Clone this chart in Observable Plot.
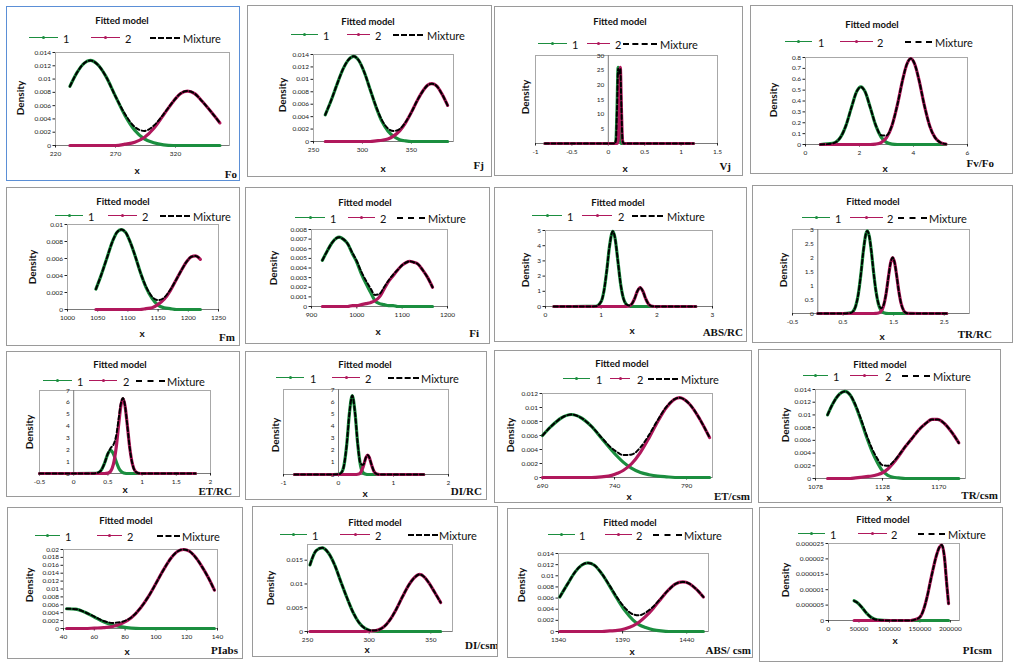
<!DOCTYPE html>
<html><head><meta charset="utf-8">
<script src="https://cdn.jsdelivr.net/npm/d3@7"></script>
<script src="https://cdn.jsdelivr.net/npm/@observablehq/plot@0.6"></script>
<style>
body{margin:0;background:#fff;}
#root{position:relative;width:1021px;height:671px;overflow:hidden;font-family:Lato,"Open Sans",sans-serif;background:#fff;}
.panel{position:absolute;box-sizing:border-box;border:1px solid #9a9a9a;overflow:hidden;background:#fff;}
.panel.sel{border-color:#5b8fd6;}
.panel svg{position:absolute;left:0;top:0;overflow:visible;}
.t{position:absolute;white-space:nowrap;line-height:1;color:#111;}
.title{font-weight:bold;font-size:9.5px;transform:translate(-50%,-50%);}
.legtxt{font-size:11px;transform:translateY(-50%);}
.dens{font-weight:bold;font-size:10px;transform:translate(-50%,-50%) rotate(-90deg);}
.xl{font-weight:bold;font-size:10px;line-height:0.8;transform:translate(-50%,-50%);}
.corner{font-family:"Liberation Serif","DejaVu Serif",serif;font-weight:bold;font-size:11px;transform:translate(-100%,-50%);}
.cornerL{font-family:"Liberation Serif","DejaVu Serif",serif;font-weight:bold;font-size:11px;transform:translateY(-50%);}
.sw{position:absolute;height:0;}
.dot{position:absolute;width:3px;height:3px;border-radius:50%;left:50%;top:-2.2px;margin-left:-1.5px;}
</style></head>
<body><div id="root"></div>
<script>
// ---------- data ----------
const foX = [232, 238, 244, 249, 255, 262, 270, 278, 286, 294, 302, 310, 318, 324, 330, 336, 342, 350, 357];
const foC1 = [0.0089, 0.0110, 0.0124, 0.0128, 0.0122, 0.0104, 0.0074, 0.0045, 0.0023, 0.0010, 0.0004, 0.0001, 0, 0, 0, 0, 0, 0, 0];
const foC2 = [0, 0, 0, 0, 0, 0, 0, 0.0002, 0.0005, 0.0012, 0.0026, 0.0046, 0.0066, 0.0078, 0.0082, 0.0078, 0.0067, 0.0050, 0.0034];
const foMix = [0.0089, 0.0110, 0.0124, 0.0128, 0.0122, 0.0104, 0.0074, 0.0047, 0.0028, 0.0022, 0.0030, 0.0047, 0.0066, 0.0078, 0.0082, 0.0078, 0.0067, 0.0050, 0.0034];
const foXT = [220, 270, 320];
const foYT = [0, 0.002, 0.004, 0.006, 0.008, 0.01, 0.012, 0.014];

const fjX = [262, 268, 274, 280, 286, 291, 296, 302, 308, 314, 320, 326, 332, 338, 344, 350, 356, 362, 367, 371, 376, 381, 387];
const fjC1 = [0.0043, 0.0066, 0.0092, 0.0116, 0.0132, 0.0137, 0.0131, 0.0111, 0.0083, 0.0055, 0.0032, 0.0017, 0.0008, 0.0003, 0.0001, 0, 0, 0, 0, 0, 0, 0, 0];
const fjC2 = [0, 0, 0, 0, 0, 0, 0, 0, 0, 0.0001, 0.0002, 0.0004, 0.0009, 0.0017, 0.0030, 0.0047, 0.0066, 0.0082, 0.0091, 0.0093, 0.0089, 0.0077, 0.0058];
const fjMix = [0.0043, 0.0066, 0.0092, 0.0116, 0.0132, 0.0137, 0.0131, 0.0111, 0.0083, 0.0056, 0.0034, 0.0021, 0.0017, 0.0020, 0.0031, 0.0047, 0.0066, 0.0082, 0.0091, 0.0093, 0.0089, 0.0077, 0.0058];
const fjXT = [250, 300, 350];
const fjYT = [0, 0.002, 0.004, 0.006, 0.008, 0.01, 0.012, 0.014];

const vjX = [-0.87, -0.5, 0, 0.09, 0.105, 0.12, 0.135, 0.15, 0.165, 0.18, 0.195, 0.21, 0.23, 0.3, 0.5, 1.0, 1.17];
const vjC1 = [0, 0, 0, 0.02, 1.1, 11.9, 26, 11.9, 1.1, 0.02, 0, 0, 0, 0, 0, 0, 0];
const vjC2 = [0, 0, 0, 0, 0, 0, 1.1, 11.9, 26, 11.9, 1.1, 0.02, 0, 0, 0, 0, 0];
const vjMix = [0, 0, 0, 0.02, 1.1, 11.9, 25.5, 23.8, 25.5, 11.9, 1.1, 0.02, 0, 0, 0, 0, 0];
const vjXT = [-1, -0.5, 0, 0.5, 1, 1.5];
const vjYT = [5, 10, 15, 20, 25, 30];

const fvX = [0.55, 1.0, 1.3, 1.5, 1.7, 1.9, 2.05, 2.2, 2.4, 2.6, 2.8, 3.0, 3.2, 3.4, 3.6, 3.75, 3.9, 4.05, 4.2, 4.4, 4.6, 4.8, 5.0, 5.2];
const fvC1 = [0, 0.010, 0.068, 0.176, 0.339, 0.489, 0.53, 0.489, 0.339, 0.176, 0.068, 0.020, 0.004, 0, 0, 0, 0, 0, 0, 0, 0, 0, 0, 0];
const fvC2 = [0, 0, 0, 0, 0, 0, 0, 0, 0, 0.004, 0.018, 0.063, 0.171, 0.362, 0.597, 0.736, 0.79, 0.736, 0.597, 0.362, 0.171, 0.063, 0.018, 0.004];
const fvMix = [0, 0.010, 0.068, 0.176, 0.339, 0.489, 0.53, 0.489, 0.339, 0.180, 0.086, 0.083, 0.175, 0.362, 0.597, 0.736, 0.79, 0.736, 0.597, 0.362, 0.171, 0.063, 0.018, 0.004];
const fvXT = [0, 2, 4, 6];
const fvYT = [0, 0.1, 0.2, 0.3, 0.4, 0.5, 0.6, 0.7, 0.8];

const fmX = [1047, 1055, 1065, 1075, 1082, 1089, 1096, 1104, 1112, 1120, 1130, 1140, 1150, 1160, 1170, 1180, 1190, 1198, 1205, 1212, 1220];
const fmC1 = [0.0024, 0.0039, 0.0060, 0.0081, 0.0091, 0.0094, 0.0091, 0.0079, 0.0063, 0.0045, 0.0026, 0.0013, 0.0005, 0.0002, 0.0001, 0, 0, 0, 0, 0, 0];
const fmC2 = [0, 0, 0, 0, 0, 0, 0, 0, 0, 0, 0.0001, 0.0002, 0.0006, 0.0012, 0.0022, 0.0035, 0.0048, 0.0057, 0.0062, 0.0063, 0.0059];
const fmMix = [0.0024, 0.0039, 0.0060, 0.0081, 0.0091, 0.0094, 0.0091, 0.0079, 0.0063, 0.0045, 0.0027, 0.0015, 0.0011, 0.0014, 0.0023, 0.0035, 0.0048, 0.0057, 0.0062, 0.0063, 0.0059];
const fmXT = [1000, 1050, 1100, 1150, 1200, 1250];
const fmYT = [0, 0.002, 0.004, 0.006, 0.008, 0.01];

const fiX = [924, 935, 945, 955, 961, 970, 980, 990, 1000, 1010, 1020, 1030, 1040, 1050, 1060, 1070, 1080, 1090, 1100, 1110, 1116, 1125, 1135, 1145, 1155, 1167];
const fiC1 = [0.0048, 0.0058, 0.0066, 0.0071, 0.0072, 0.0070, 0.0065, 0.0055, 0.0046, 0.0034, 0.0024, 0.0015, 0.0006, 0.0003, 0.0002, 0.0001, 0.0001, 0, 0, 0, 0, 0, 0, 0, 0, 0];
const fiC2 = [0, 0, 0, 0, 0, 0, 0, 0.0001, 0.0001, 0.0002, 0.0003, 0.0004, 0.0006, 0.0010, 0.0018, 0.0026, 0.0032, 0.0038, 0.0043, 0.0046, 0.0047, 0.0046, 0.0044, 0.0038, 0.0031, 0.0020];
const fiMix = [0.0048, 0.0058, 0.0066, 0.0071, 0.0072, 0.0070, 0.0065, 0.0056, 0.0047, 0.0036, 0.0027, 0.0019, 0.0012, 0.0013, 0.0020, 0.0027, 0.0033, 0.0038, 0.0043, 0.0046, 0.0047, 0.0046, 0.0044, 0.0038, 0.0031, 0.0020];
const fiXT = [900, 1000, 1100, 1200];
const fiYT = [0, 0.001, 0.002, 0.003, 0.004, 0.005, 0.006, 0.007, 0.008];

const abrX = [0.15, 0.5, 0.9, 1.0, 1.05, 1.1, 1.15, 1.21, 1.25, 1.3, 1.35, 1.4, 1.45, 1.5, 1.55, 1.6, 1.65, 1.7, 1.75, 1.8, 1.85, 1.9, 2.0, 2.3, 2.7];
const abrC1 = [0, 0, 0.01, 0.33, 1.02, 2.35, 3.96, 4.95, 4.48, 3.0, 1.47, 0.53, 0.14, 0.03, 0, 0, 0, 0, 0, 0, 0, 0, 0, 0, 0];
const abrC2 = [0, 0, 0, 0, 0, 0, 0, 0, 0, 0, 0, 0, 0.005, 0.035, 0.17, 0.51, 1.0, 1.25, 1.0, 0.51, 0.17, 0.035, 0, 0, 0];
const abrMix = [0, 0, 0.01, 0.33, 1.02, 2.35, 3.96, 4.95, 4.48, 3.0, 1.47, 0.53, 0.145, 0.065, 0.17, 0.51, 1.0, 1.25, 1.0, 0.51, 0.17, 0.035, 0, 0, 0];
const abrXT = [0, 1, 2, 3];
const abrYT = [0, 1, 2, 3, 4, 5];

const trrX = [0, 0.5, 0.65, 0.7, 0.75, 0.8, 0.85, 0.9, 0.95, 0.98, 1.02, 1.06, 1.1, 1.15, 1.2, 1.25, 1.3, 1.35, 1.4, 1.44, 1.48, 1.52, 1.56, 1.6, 1.65, 1.7, 1.75, 1.8, 2.0, 2.55];
const trrC1 = [0, 0, 0.02, 0.08, 0.27, 0.68, 1.37, 2.21, 2.83, 2.95, 2.74, 2.21, 1.53, 0.80, 0.33, 0.11, 0.03, 0.006, 0, 0, 0, 0, 0, 0, 0, 0, 0, 0, 0, 0];
const trrC2 = [0, 0, 0, 0, 0, 0, 0, 0, 0, 0, 0, 0, 0, 0.002, 0.016, 0.076, 0.27, 0.70, 1.35, 1.81, 2.0, 1.81, 1.35, 0.82, 0.34, 0.10, 0.02, 0.004, 0, 0];
const trrMix = [0, 0, 0.02, 0.08, 0.27, 0.68, 1.37, 2.21, 2.83, 2.95, 2.74, 2.21, 1.53, 0.80, 0.35, 0.19, 0.30, 0.71, 1.35, 1.81, 2.0, 1.81, 1.35, 0.82, 0.34, 0.10, 0.02, 0.004, 0, 0];
const trrXT = [-0.5, 0.5, 1.5, 2.5];
const trrYT = [0, 0.5, 1, 1.5, 2, 2.5, 3];

const etrX = [-0.5, 0, 0.3, 0.35, 0.4, 0.45, 0.5, 0.54, 0.58, 0.62, 0.66, 0.69, 0.72, 0.75, 0.78, 0.82, 0.86, 0.9, 0.95, 1.0, 1.2, 1.5, 1.78];
const etrC1 = [0, 0, 0.005, 0.05, 0.26, 0.85, 1.66, 1.95, 1.66, 1.02, 0.45, 0.20, 0.07, 0.02, 0, 0, 0, 0, 0, 0, 0, 0, 0];
const etrC2 = [0, 0, 0, 0, 0, 0, 0.03, 0.19, 0.76, 2.14, 4.27, 5.72, 6.3, 5.72, 4.27, 2.14, 0.76, 0.19, 0.02, 0, 0, 0, 0];
const etrMix = [0, 0, 0.005, 0.05, 0.26, 0.85, 1.69, 2.14, 2.42, 3.16, 4.72, 5.92, 6.37, 5.74, 4.27, 2.14, 0.76, 0.19, 0.02, 0, 0, 0, 0];
const etrXT = [-0.5, 0, 0.5, 1, 1.5, 2];
const etrYT = [0, 1, 2, 3, 4, 5, 6, 7];

const dirX = [-0.8, -0.2, 0, 0.05, 0.1, 0.15, 0.2, 0.25, 0.3, 0.35, 0.4, 0.45, 0.5, 0.53, 0.56, 0.6, 0.65, 0.7, 0.75, 1.0, 1.55];
const dirC1 = [0, 0, 0.016, 0.14, 0.75, 2.49, 5.11, 6.5, 5.11, 2.49, 0.75, 0.14, 0.016, 0, 0, 0, 0, 0, 0, 0, 0];
const dirC2 = [0, 0, 0, 0, 0, 0, 0, 0, 0, 0.018, 0.15, 0.66, 1.41, 1.6, 1.41, 0.81, 0.22, 0.03, 0, 0, 0];
const dirMix = [0, 0, 0.016, 0.14, 0.75, 2.49, 5.11, 6.5, 5.11, 2.51, 0.90, 0.80, 1.43, 1.6, 1.41, 0.81, 0.22, 0.03, 0, 0, 0];
const dirXT = [-1, 0, 1, 2];
const dirYT = [0, 1, 2, 3, 4, 5, 6, 7];

const etcX = [690, 696, 703, 710, 717, 724, 731, 738, 742, 746, 752, 758, 764, 770, 776, 785, 792, 799, 806];
const etcC1 = [0.0060, 0.0073, 0.0085, 0.0090, 0.0085, 0.0073, 0.0056, 0.0039, 0.0030, 0.0022, 0.0013, 0.0007, 0.0004, 0.0002, 0.0001, 0, 0, 0, 0];
const etcC2 = [0, 0, 0, 0, 0, 0, 0.0001, 0.0003, 0.0006, 0.0010, 0.0020, 0.0036, 0.0057, 0.0080, 0.0100, 0.0114, 0.0105, 0.0084, 0.0057];
const etcMix = [0.0060, 0.0073, 0.0085, 0.0090, 0.0085, 0.0073, 0.0057, 0.0042, 0.0036, 0.0032, 0.0033, 0.0043, 0.0061, 0.0082, 0.0101, 0.0114, 0.0105, 0.0084, 0.0057];
const etcXT = [690, 740, 790];
const etcYT = [0, 0.002, 0.004, 0.006, 0.008, 0.01, 0.012];

const trcX = [1087, 1091, 1096, 1100, 1104, 1108, 1112, 1116, 1120, 1124, 1128, 1132, 1136, 1140, 1145, 1150, 1155, 1160, 1165, 1169, 1174, 1180, 1185];
const trcC1 = [0.0100, 0.0118, 0.0133, 0.0137, 0.0131, 0.0114, 0.0091, 0.0066, 0.0044, 0.0026, 0.0012, 0.0005, 0.0002, 0.0001, 0, 0, 0, 0, 0, 0, 0, 0, 0];
const trcC2 = [0, 0, 0, 0, 0, 0.0001, 0.0002, 0.0003, 0.0004, 0.0006, 0.0009, 0.0015, 0.0024, 0.0035, 0.0050, 0.0063, 0.0076, 0.0086, 0.0093, 0.0093, 0.0087, 0.0072, 0.0056];
const trcMix = [0.0100, 0.0118, 0.0133, 0.0137, 0.0131, 0.0115, 0.0093, 0.0069, 0.0048, 0.0032, 0.0021, 0.0020, 0.0026, 0.0036, 0.0050, 0.0063, 0.0076, 0.0086, 0.0093, 0.0093, 0.0087, 0.0072, 0.0056];
const trcXT = [1078, 1128, 1170];
const trcYT = [0, 0.002, 0.004, 0.006, 0.008, 0.01, 0.012, 0.014];

const piaX = [42, 48, 54, 60, 66, 72, 78, 84, 90, 95, 100, 105, 110, 114, 118, 122, 126, 130, 134, 138];
const piaC1 = [0.0050, 0.0049, 0.0041, 0.0029, 0.0017, 0.0009, 0.0004, 0.0001, 0, 0, 0, 0, 0, 0, 0, 0, 0, 0, 0, 0];
const piaC2 = [0, 0, 0, 0.0001, 0.0002, 0.0005, 0.0013, 0.0027, 0.0052, 0.0080, 0.0114, 0.0149, 0.0179, 0.0195, 0.0200, 0.0195, 0.0179, 0.0156, 0.0129, 0.0097];
const piaMix = [0.0050, 0.0049, 0.0041, 0.0030, 0.0019, 0.0014, 0.0017, 0.0028, 0.0052, 0.0080, 0.0114, 0.0149, 0.0179, 0.0195, 0.0200, 0.0195, 0.0179, 0.0156, 0.0129, 0.0097];
const piaXT = [40, 60, 80, 100, 120, 140];
const piaYT = [0, 0.002, 0.004, 0.006, 0.008, 0.01, 0.012, 0.014, 0.016, 0.018, 0.02];

const dicX = [252, 257, 262, 267, 272, 277, 282, 287, 292, 297, 302, 307, 312, 317, 322, 327, 332, 337, 341, 345, 349, 353, 358];
const dicC1 = [0.0140, 0.0170, 0.0176, 0.0165, 0.0140, 0.0105, 0.0071, 0.0040, 0.0018, 0.0006, 0.0001, 0, 0, 0, 0, 0, 0, 0, 0, 0, 0, 0, 0];
const dicC2 = [0, 0, 0, 0, 0, 0, 0, 0, 0, 0, 0.0001, 0.0003, 0.0010, 0.0025, 0.0047, 0.0073, 0.0097, 0.0114, 0.0120, 0.0114, 0.0100, 0.0083, 0.0061];
const dicMix = [0.0140, 0.0170, 0.0176, 0.0165, 0.0140, 0.0105, 0.0071, 0.0040, 0.0018, 0.0006, 0.0002, 0.0003, 0.0010, 0.0025, 0.0047, 0.0073, 0.0097, 0.0114, 0.0120, 0.0114, 0.0100, 0.0083, 0.0061];
const dicXT = [250, 300, 350];
const dicYT = [0, 0.005, 0.01, 0.015];

const abcX = [1341, 1347, 1353, 1358, 1363, 1368, 1374, 1380, 1386, 1392, 1398, 1403, 1408, 1414, 1420, 1426, 1431, 1437, 1442, 1447, 1453];
const abcC1 = [0.0062, 0.0085, 0.0107, 0.0119, 0.0123, 0.0119, 0.0103, 0.0081, 0.0058, 0.0037, 0.0021, 0.0012, 0.0007, 0.0003, 0.0001, 0, 0, 0, 0, 0, 0];
const abcC2 = [0, 0, 0, 0, 0, 0, 0, 0.0001, 0.0002, 0.0005, 0.0010, 0.0017, 0.0027, 0.0042, 0.0059, 0.0075, 0.0085, 0.0089, 0.0086, 0.0077, 0.0062];
const abcMix = [0.0062, 0.0085, 0.0107, 0.0119, 0.0123, 0.0119, 0.0103, 0.0082, 0.0060, 0.0042, 0.0031, 0.0029, 0.0034, 0.0045, 0.0060, 0.0075, 0.0085, 0.0089, 0.0086, 0.0077, 0.0062];
const abcXT = [1340, 1390, 1440];
const abcYT = [0, 0.002, 0.004, 0.006, 0.008, 0.01, 0.012, 0.014];

const picX = [42000, 48000, 55000, 62000, 70000, 80000, 100000, 120000, 135000, 142000, 150000, 156000, 162000, 167000, 172000, 177000, 182000, 186000, 190000, 194000, 197000];
const picC1 = [0.0000064, 0.0000057, 0.0000042, 0.0000025, 0.000001, 0.0000002, 0, 0, 0, 0, 0, 0, 0, 0, 0, 0, 0, 0, 0, 0, 0];
const picC2 = [0, 0, 0, 0, 0, 0, 0, 0, 0, 0.0000003, 0.0000011, 0.0000035, 0.0000078, 0.0000125, 0.000017, 0.000021, 0.0000238, 0.0000245, 0.000021, 0.000012, 0.0000055];
const picMix = [0.0000064, 0.0000057, 0.0000042, 0.0000025, 0.000001, 0.0000002, 0, 0, 0, 0.0000003, 0.0000011, 0.0000035, 0.0000078, 0.0000125, 0.000017, 0.000021, 0.0000238, 0.0000245, 0.000021, 0.000012, 0.0000055];
const picXT = [0, 50000, 100000, 150000, 200000];
const picYT = [0, 0.000005, 0.00001, 0.000015, 0.00002, 0.000025];

const panelNames = ["Fo","Fj","Vj","Fv/Fo","Fm","Fi","ABS/RC","TR/RC","ET/RC","DI/RC","ET/csm","TR/csm","PIabs","DI/csm","ABS/ csm","PIcsm"];
const legendLabels = ["1", "2", "Mixture"];

// ---------- scales / layout ----------
const series = [
  {x: foX, c1: foC1, c2: foC2, mix: foMix, xt: foXT, yt: foYT, xd: [220, 365], yd: [0, 0.014]},
  {x: fjX, c1: fjC1, c2: fjC2, mix: fjMix, xt: fjXT, yt: fjYT, xd: [250, 393], yd: [0, 0.014]},
  {x: vjX, c1: vjC1, c2: vjC2, mix: vjMix, xt: vjXT, yt: vjYT, xd: [-1, 1.5], yd: [0, 30], zero: true},
  {x: fvX, c1: fvC1, c2: fvC2, mix: fvMix, xt: fvXT, yt: fvYT, xd: [0, 6], yd: [0, 0.8]},
  {x: fmX, c1: fmC1, c2: fmC2, mix: fmMix, xt: fmXT, yt: fmYT, xd: [1000, 1250], yd: [0, 0.01]},
  {x: fiX, c1: fiC1, c2: fiC2, mix: fiMix, xt: fiXT, yt: fiYT, xd: [900, 1200], yd: [0, 0.008]},
  {x: abrX, c1: abrC1, c2: abrC2, mix: abrMix, xt: abrXT, yt: abrYT, xd: [0, 3], yd: [0, 5]},
  {x: trrX, c1: trrC1, c2: trrC2, mix: trrMix, xt: trrXT, yt: trrYT, xd: [-0.5, 3], yd: [0, 3], zero: true},
  {x: etrX, c1: etrC1, c2: etrC2, mix: etrMix, xt: etrXT, yt: etrYT, xd: [-0.5, 2], yd: [0, 7], zero: true},
  {x: dirX, c1: dirC1, c2: dirC2, mix: dirMix, xt: dirXT, yt: dirYT, xd: [-1, 2], yd: [0, 7], zero: true},
  {x: etcX, c1: etcC1, c2: etcC2, mix: etcMix, xt: etcXT, yt: etcYT, xd: [690, 808], yd: [0, 0.012]},
  {x: trcX, c1: trcC1, c2: trcC2, mix: trcMix, xt: trcXT, yt: trcYT, xd: [1078, 1190], yd: [0, 0.014]},
  {x: piaX, c1: piaC1, c2: piaC2, mix: piaMix, xt: piaXT, yt: piaYT, xd: [40, 140], yd: [0, 0.02]},
  {x: dicX, c1: dicC1, c2: dicC2, mix: dicMix, xt: dicXT, yt: dicYT, xd: [250, 367.6], yd: [0, 0.0183]},
  {x: abcX, c1: abcC1, c2: abcC2, mix: abcMix, xt: abcXT, yt: abcYT, xd: [1340, 1457], yd: [0, 0.014]},
  {x: picX, c1: picC1, c2: picC2, mix: picMix, xt: picXT, yt: picYT, xd: [0, 215000], yd: [0, 0.000025]}
];

// page layout (absolute px): box, plot frame, title, legend, Density, x, corner
const layout = [
  {box:[6,6,240,181], plot:[55,52,229,145], title:[122,21], leg:[38,29,58,63,91,120,125,150,180,183], dens:[20,98], xl:[137,170], corner:[237,174]},
  {box:[247,5,492,177], plot:[313,54,453,141], title:[368,22], leg:[35,291,318,323,347,370,375,393,423,427], dens:[282,95], xl:[383,168], corner:[484,165]},
  {box:[494,6,743,176], plot:[535,55,717,143], title:[620,22], leg:[44,538,567,572,587,610,615,623,657,660], dens:[525,97], xl:[625,168], corner:[731,166]},
  {box:[750,5,1013,174], plot:[805,57,967,144], title:[872,25], leg:[42,785,812,818,840,873,877,905,932,935], dens:[773,100], xl:[885,168], corner:[994,163]},
  {box:[6,187,240,346], plot:[67,224,218,309], title:[123,202], leg:[216,55,83,88,108,137,142,160,190,193], dens:[32,267], xl:[142,333], corner:[235,337]},
  {box:[245,187,490,344], plot:[311,229,447,306], title:[365,203], leg:[218,295,325,330,348,375,380,397,425,428], dens:[273,268], xl:[378,331], corner:[479,333]},
  {box:[494,187,747,342], plot:[545,230,712,306], title:[618,203], leg:[216,532,562,567,582,612,618,632,663,667], dens:[525,270], xl:[632,330], corner:[743,332]},
  {box:[752,185,1013,343], plot:[792,229,969,313], title:[873,202], leg:[218,802,830,835,850,883,887,898,927,929], dens:[783,270], xl:[882,336], corner:[992,334]},
  {box:[6,351,240,497], plot:[39,390,210,473], title:[120,365], leg:[381,43,72,77,89,117,123,136,165,167], dens:[29,432], xl:[125,489], corner:[232,491]},
  {box:[245,351,487,500], plot:[283,389,448,474], title:[365,365], leg:[378,276,304,310,332,360,365,388,419,421], dens:[275,435], xl:[365,493], corner:[482,491]},
  {box:[494,350,752,503], plot:[542,393,712,477], title:[622,364], leg:[379,563,590,596,610,630,637,648,678,681], dens:[510,435], xl:[629,496], corner:[750,496]},
  {box:[758,349,1001,503], plot:[815,389,965,478], title:[880,365], leg:[376,803,828,833,850,878,885,902,930,933], dens:[785,425], xl:[889,497], corner:[998,495]},
  {box:[7,507,243,659], plot:[63,549,217,628], title:[126,521], leg:[536,35,60,65,97,122,127,157,180,182], dens:[29,585], xl:[127,651], corner:[238,650]},
  {box:[252,506,498,657], plot:[307,544,452,631], title:[375,523], leg:[535,280,307,312,340,370,375,408,438,439], dens:[270,588], xl:[367,649], cornerLeft:[465,645]},
  {box:[507,508,753,658], plot:[558,553,708,631], title:[630,523], leg:[535,548,575,579,605,632,636,653,682,684], dens:[521,585], xl:[632,651], corner:[751,650]},
  {box:[759,507,1003,662], plot:[828,543,959,620], title:[883,520], leg:[534,798,825,830,858,887,891,918,945,948], dens:[785,580], xl:[895,640], corner:[992,650]}
];

const GREEN = "#1b8e3f", PINK = "#b0185c";
const fmt = d => String(d);
const root = document.getElementById("root");

function addText(parent, cls, txt, x, y) {
  const s = document.createElement("div");
  s.className = "t " + cls;
  s.textContent = txt;
  s.style.left = x + "px"; s.style.top = y + "px";
  parent.appendChild(s);
  return s;
}
function addSwatch(parent, x1, x2, y, color, dashed) {
  const d = document.createElement("div");
  d.className = "sw";
  d.style.left = x1 + "px"; d.style.top = (y - (dashed ? 1 : 0.8)) + "px";
  d.style.width = (x2 - x1) + "px";
  d.style.borderTop = dashed ? "2px dashed #000" : "1.6px solid " + color;
  if (!dashed) {
    const m = document.createElement("div");
    m.className = "dot"; m.style.background = color;
    d.appendChild(m);
  }
  parent.appendChild(d);
}

series.forEach((s, i) => {
  const L = layout[i];
  const [l, t, r, b] = L.box;
  const ox = l + 1, oy = t + 1;
  const w = r - l - 2, h = b - t - 2;
  const div = document.createElement("div");
  div.className = "panel" + (i === 0 ? " sel" : "");
  div.style.left = l + "px"; div.style.top = t + "px";
  div.style.width = (r - l) + "px"; div.style.height = (b - t) + "px";
  root.appendChild(div);

  const rows = s.x.map((x, k) => ({x, c1: s.c1[k], c2: s.c2[k], mix: s.mix[k]}));
  const [PL, PT, PR, PB] = L.plot;
  const marks = [
    Plot.frame({stroke: "#a8a8a8"}),
    Plot.ruleY([0], {stroke: "#7a7a7a"}),
    Plot.axisX({ticks: s.xt, tickFormat: fmt, tickSize: 2.5, tickPadding: 3.5, fontSize: 6.5, label: null})
  ];
  if (s.zero) {
    marks.push(Plot.ruleX([0], {stroke: "#7a7a7a"}));
    marks.push(Plot.text(s.yt, {x: () => 0, y: d => d, text: fmt, dx: -4, textAnchor: "end", fontSize: 6.5, fill: "#222"}));
  } else {
    marks.push(Plot.axisY({ticks: s.yt, tickFormat: fmt, tickSize: 2.5, tickPadding: 2, fontSize: 6.5, label: null}));
  }
  marks.push(
    Plot.line(rows, {x: "x", y: "c1", stroke: GREEN, strokeWidth: 3.2, curve: "monotone-x"}),
    Plot.line(rows, {x: "x", y: "c2", stroke: PINK, strokeWidth: 3.2, curve: "monotone-x"}),
    Plot.line(rows, {x: "x", y: "mix", stroke: "#000", strokeWidth: 2, strokeDasharray: "4,2.5", curve: "monotone-x"})
  );
  const svg = Plot.plot({
    width: w, height: h,
    marginLeft: PL - ox, marginTop: PT - oy, marginRight: (ox + w) - PR, marginBottom: (oy + h) - PB,
    x: {domain: s.xd, axis: null},
    y: {domain: s.yd, axis: null},
    style: {fontSize: "6.5px", fontFamily: "Lato, 'Open Sans', sans-serif", color: "#222", background: "transparent"},
    marks
  });
  div.appendChild(svg);

  addText(div, "title", "Fitted model", L.title[0] - ox, L.title[1] - oy);
  const g = L.leg, ly = g[0] - oy;
  addSwatch(div, g[1] - ox, g[2] - ox, ly, GREEN, false);
  addText(div, "legtxt", legendLabels[0], g[3] - ox, ly);
  addSwatch(div, g[4] - ox, g[5] - ox, ly, PINK, false);
  addText(div, "legtxt", legendLabels[1], g[6] - ox, ly);
  addSwatch(div, g[7] - ox, g[8] - ox, ly, "#000", true);
  addText(div, "legtxt", legendLabels[2], g[9] - ox, ly);
  addText(div, "dens", "Density", L.dens[0] - ox, L.dens[1] - oy);
  addText(div, "xl", "x", L.xl[0] - ox, L.xl[1] - oy);
  if (L.corner) addText(div, "corner", panelNames[i], L.corner[0] - ox, L.corner[1] - oy);
  else addText(div, "cornerL", panelNames[i], L.cornerLeft[0] - ox, L.cornerLeft[1] - oy);
});
</script>
</body></html>
